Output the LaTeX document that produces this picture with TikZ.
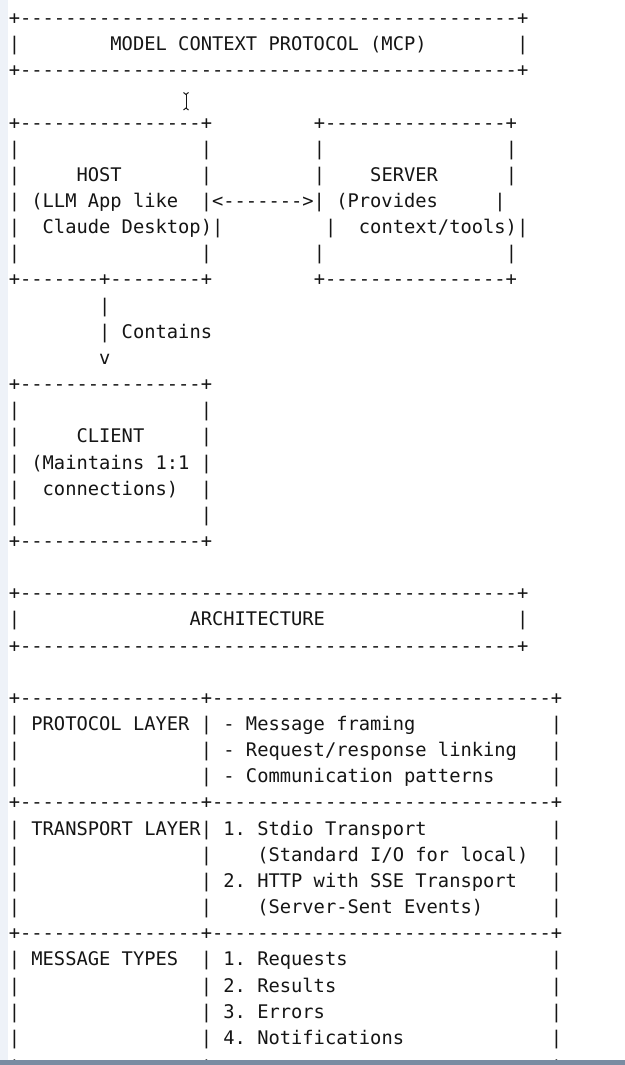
\documentclass[tikz,border=0pt]{standalone}
\usepackage{fontspec}
\setmonofont{DejaVu Sans Mono}
\usepackage{xcolor}
\usepackage{tikz}

\definecolor{ink}{HTML}{151515}
\definecolor{strip}{HTML}{EEF2F8}
\definecolor{bar}{HTML}{7A8CA2}

% runs of dashes and blanks, one character each
\newcommand{\dashes}[1]{\foreach\k in {1,...,#1}{-}}
\newcommand{\sk}[1]{\foreach\k in {1,...,#1}{\ }}

\begin{document}
\begin{tikzpicture}[x=0.5pt, y=-0.5pt]
  % Styles
  \tikzset{
    row/.style={anchor=base west, inner sep=0pt, outer sep=0pt, text=ink,
      font=\ttfamily\fontsize{9.38}{11}\selectfont\frenchspacing},
    cursor/.style={draw=ink, line width=0.5pt}
  }
  \useasboundingbox (0,0) rectangle (625,1065);
  \fill[white] (0,0) rectangle (625,1065);
  \fill[strip] (0,0) rectangle (8,1065);

  % Title box
  \node[row] (mcptop) at (8.8,24.4) {+\dashes{44}+};
  \node[row] (mcp) at (8.8,50.5) {|\sk{8}MODEL CONTEXT PROTOCOL (MCP)\sk{8}|};
  \node[row] (mcpbot) at (8.8,76.7) {+\dashes{44}+};

  % Text cursor
  \draw[cursor] (183.5,92.5) -- (186,94.5) -- (188.5,92.5);
  \draw[cursor] (186,94.5) -- (186,108);
  \draw[cursor] (183.5,110) -- (186,108) -- (188.5,110);

  % Host and server
  \node[row] (hosttop) at (8.8,129.0) {+\dashes{16}+\sk{9}+\dashes{16}+};
  \node[row] (hostpad1) at (8.8,155.1) {|\sk{16}|\sk{9}|\sk{16}|};
  \node[row] (hostname) at (8.8,181.3) {|\sk{5}HOST\sk{7}|\sk{9}|\sk{4}SERVER\sk{6}|};
  \node[row] (hostdesc1) at (8.8,207.4) {|\sk{1}(LLM App like\sk{2}|<\dashes{7}>|\sk{1}(Provides\sk{5}|};
  \node[row] (hostdesc2) at (8.8,233.6) {|\sk{2}Claude Desktop)|\sk{9}|\sk{2}context/tools)|};
  \node[row] (hostpad2) at (8.8,259.8) {|\sk{16}|\sk{9}|\sk{16}|};
  \node[row] (hostbot) at (8.8,285.9) {+\dashes{7}+\dashes{8}+\sk{9}+\dashes{16}+};

  % Contains link
  \node[row] (link1) at (8.8,312.1) {\sk{8}|};
  \node[row] (contains) at (8.8,338.2) {\sk{8}| Contains};
  \node[row] (linkhead) at (8.8,364.4) {\sk{8}v};

  % Client
  \node[row] (clienttop) at (8.8,390.5) {+\dashes{16}+};
  \node[row] (clientpad1) at (8.8,416.7) {|\sk{16}|};
  \node[row] (clientname) at (8.8,442.8) {|\sk{5}CLIENT\sk{5}|};
  \node[row] (clientdesc1) at (8.8,469.0) {|\sk{1}(Maintains 1:1\sk{1}|};
  \node[row] (clientdesc2) at (8.8,495.1) {|\sk{2}connections)\sk{2}|};
  \node[row] (clientpad2) at (8.8,521.3) {|\sk{16}|};
  \node[row] (clientbot) at (8.8,547.4) {+\dashes{16}+};

  % Architecture box
  \node[row] (archtop) at (8.8,599.7) {+\dashes{44}+};
  \node[row] (arch) at (8.8,625.9) {|\sk{15}ARCHITECTURE\sk{17}|};
  \node[row] (archbot) at (8.8,652.0) {+\dashes{44}+};

  % Layer table
  \node[row] (tabtop) at (8.8,704.3) {+\dashes{16}+\dashes{30}+};
  \node[row] (proto1) at (8.8,730.5) {| PROTOCOL LAYER | - Message framing\sk{12}|};
  \node[row] (proto2) at (8.8,756.6) {|\sk{16}| - Request/response linking\sk{3}|};
  \node[row] (proto3) at (8.8,782.8) {|\sk{16}| - Communication patterns\sk{5}|};
  \node[row] (tabsep1) at (8.8,808.9) {+\dashes{16}+\dashes{30}+};
  \node[row] (trans1) at (8.8,835.1) {| TRANSPORT LAYER| 1. Stdio Transport\sk{11}|};
  \node[row] (trans2) at (8.8,861.2) {|\sk{16}|\sk{4}(Standard I/O for local)\sk{2}|};
  \node[row] (trans3) at (8.8,887.4) {|\sk{16}| 2. HTTP with SSE Transport\sk{3}|};
  \node[row] (trans4) at (8.8,913.5) {|\sk{16}|\sk{4}(Server-Sent Events)\sk{6}|};
  \node[row] (tabsep2) at (8.8,939.7) {+\dashes{16}+\dashes{30}+};
  \node[row] (msg1) at (8.8,965.8) {| MESSAGE TYPES\sk{2}| 1. Requests\sk{18}|};
  \node[row] (msg2) at (8.8,992.0) {|\sk{16}| 2. Results\sk{19}|};
  \node[row] (msg3) at (8.8,1018.1) {|\sk{16}| 3. Errors\sk{20}|};
  \node[row] (msg4) at (8.8,1044.3) {|\sk{16}| 4. Notifications\sk{13}|};
  \node[row] (tabbot) at (8.8,1070.4) {+\dashes{16}+\dashes{30}+};

  % Window edge
  \fill[bar] (0,1060) rectangle (625,1065);
\end{tikzpicture}
\end{document}
